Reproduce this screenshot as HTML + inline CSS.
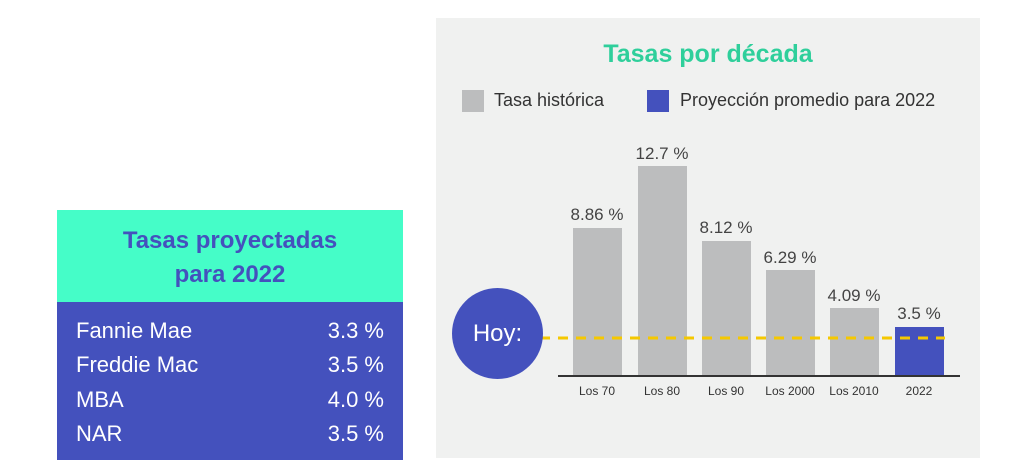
<!DOCTYPE html><html><head><meta charset="utf-8"><style>
body{margin:0;width:1024px;height:476px;background:#fff;position:relative;overflow:hidden;font-family:"Liberation Sans",sans-serif}
.a{position:absolute}
.bar{position:absolute;background:#bcbdbe;width:49px}
.v{position:absolute;font-size:17px;color:#444;width:80px;text-align:center}
.l{position:absolute;font-size:12px;color:#333;width:80px;text-align:center;top:384px}
.row{position:absolute;left:76px;width:308px;font-size:22px;color:#fff;display:flex;justify-content:space-between}
</style></head><body>
<div class="a" style="left:436px;top:18px;width:544px;height:440px;background:#f0f1f0"></div>
<div class="a" style="left:436px;top:40px;width:544px;text-align:center;font-size:25px;font-weight:bold;color:#2fcf9b">Tasas por década</div>
<div class="a" style="left:462px;top:90px;width:22px;height:22px;background:#bcbdbe"></div>
<div class="a" style="left:494px;top:90px;font-size:18px;color:#333">Tasa histórica</div>
<div class="a" style="left:647px;top:90px;width:22px;height:22px;background:#4451bd"></div>
<div class="a" style="left:680px;top:90px;font-size:18px;color:#333">Proyección promedio para 2022</div>
<div class="bar" style="left:573px;top:228px;height:147px"></div>
<div class="bar" style="left:638px;top:166px;height:209px"></div>
<div class="bar" style="left:702px;top:241px;height:134px"></div>
<div class="bar" style="left:766px;top:270px;height:105px"></div>
<div class="bar" style="left:830px;top:308px;height:67px"></div>
<div class="bar" style="left:895px;top:327px;height:48px;background:#4451bd"></div>
<div class="v" style="left:557px;top:205px">8.86 %</div>
<div class="v" style="left:622px;top:144px">12.7 %</div>
<div class="v" style="left:686px;top:218px">8.12 %</div>
<div class="v" style="left:750px;top:248px">6.29 %</div>
<div class="v" style="left:814px;top:286px">4.09 %</div>
<div class="v" style="left:879px;top:304px">3.5 %</div>
<div class="a" style="left:558px;top:375px;width:402px;height:2px;background:#333"></div>
<svg class="a" style="left:540px;top:335px" width="410" height="6"><line x1="0" y1="3" x2="405" y2="3" stroke="#f5c800" stroke-width="3" stroke-dasharray="10 8"/></svg>
<div class="a" style="left:452px;top:288px;width:91px;height:91px;border-radius:50%;background:#4451bd;color:#fff;font-size:24px;line-height:91px;text-align:center">Hoy:</div>
<div class="l" style="left:557px">Los 70</div>
<div class="l" style="left:622px">Los 80</div>
<div class="l" style="left:686px">Los 90</div>
<div class="l" style="left:750px">Los 2000</div>
<div class="l" style="left:814px">Los 2010</div>
<div class="l" style="left:879px">2022</div>
<div class="a" style="left:57px;top:210px;width:346px;height:92px;background:#45fdc8;color:#4451bd;font-weight:bold;font-size:24px;text-align:center;line-height:34px;padding-top:14px;box-sizing:border-box">Tasas proyectadas<br>para 2022</div>
<div class="a" style="left:57px;top:302px;width:346px;height:158px;background:#4451bd"></div>
<div class="row" style="top:318px"><span>Fannie Mae</span><span>3.3 %</span></div>
<div class="row" style="top:352px"><span>Freddie Mac</span><span>3.5 %</span></div>
<div class="row" style="top:387px"><span>MBA</span><span>4.0 %</span></div>
<div class="row" style="top:421px"><span>NAR</span><span>3.5 %</span></div>
</body></html>
